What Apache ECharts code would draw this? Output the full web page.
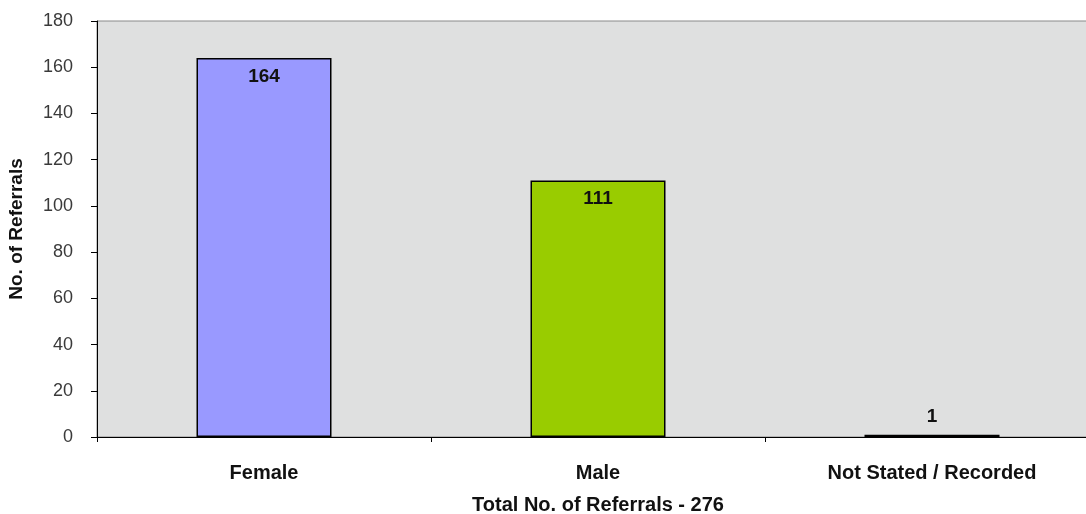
<!DOCTYPE html>
<html>
<head>
<meta charset="utf-8">
<script src="https://cdn.jsdelivr.net/npm/echarts@6/dist/echarts.min.js"></script>
<style>html,body{margin:0;padding:0;background:#fff;overflow:hidden;width:1086px;height:514px}#c{width:1099px;height:514px}</style>
</head>
<body>
<div id="c"></div>
<script>
const categories = ['Female', 'Male', 'Not Stated / Recorded'];
const referrals = [164, 111, 1];
const barColors = ['#9999ff', '#99cc00', '#000000'];
const labelPositions = ['insideTop', 'insideTop', 'top'];
const yMin = 0, yMax = 180, yStep = 20;
const xTitle = 'Total No. of Referrals - 276';
const yTitle = 'No. of Referrals';

const chart = echarts.init(document.getElementById('c'));
const font = '"Liberation Sans", Arial, sans-serif';
chart.setOption({
  animation: false,
  grid: {left: 97, right: 0, top: 21, bottom: 77, outerBoundsMode: 'none', containLabel: false, show: true, backgroundColor: '#dfe0e0', borderColor: '#8a8a8a', borderWidth: 1},
  xAxis: {
    type: 'category', data: categories,
    name: xTitle, nameLocation: 'middle', nameGap: 58,
    nameTextStyle: {color: '#111', fontFamily: font, fontWeight: 'bold', fontSize: 20},
    axisLine: {lineStyle: {color: '#000', width: 1}},
    axisTick: {show: true, length: 5, lineStyle: {color: '#000'}},
    axisLabel: {color: '#111', fontFamily: font, fontWeight: 'bold', fontSize: 20, margin: 26}
  },
  yAxis: {
    type: 'value', min: yMin, max: yMax, interval: yStep,
    name: yTitle, nameLocation: 'middle', nameGap: 71,
    nameTextStyle: {color: '#111', fontFamily: font, fontWeight: 'bold', fontSize: 19},
    axisLine: {show: true, lineStyle: {color: '#000', width: 1}},
    axisTick: {show: true, length: 6, lineStyle: {color: '#000'}},
    splitLine: {show: false},
    axisLabel: {color: '#3a3a3a', fontFamily: font, fontSize: 18, margin: 24}
  },
  series: [{
    type: 'bar', barWidth: 135,
    data: referrals.map((v, i) => ({
      value: v,
      itemStyle: {color: barColors[i], borderColor: '#000', borderWidth: 1.5},
      label: {show: true, position: labelPositions[i], distance: labelPositions[i] === 'top' ? 8 : 9}
    })),
    label: {color: '#111', fontFamily: font, fontWeight: 'bold', fontSize: 19}
  }]
});
</script>
</body>
</html>
